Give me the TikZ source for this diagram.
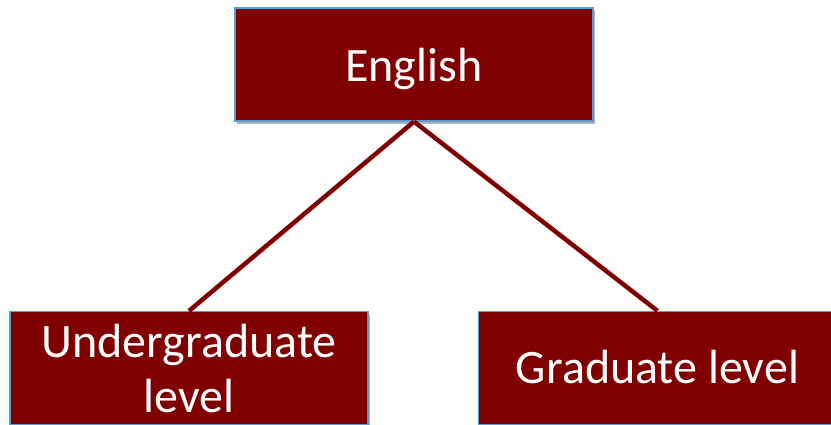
\documentclass[tikz,border=0pt]{standalone}
\usepackage{fontspec}
\setmainfont{Carlito}
\usetikzlibrary{shadows}
\definecolor{boxred}{HTML}{800000}
\definecolor{boxedge}{HTML}{5B9BD5}
\begin{document}
\begin{tikzpicture}[x=1pt,y=-1pt,
                    box/.style={draw=boxedge,line width=1.2pt,fill=boxred,text=white,minimum width=358pt,minimum height=113pt,inner sep=0pt,align=center,font=\fontsize{48}{55}\selectfont,drop shadow={shadow xshift=2pt,shadow yshift=-3pt,opacity=0.3,fill=black}},
                    one/.style={text height=#1,text depth=0pt}]
                    \useasboundingbox (0,0) rectangle (831,425);
                    \node[box,one=35pt] (E) at (414,64.5) {English};
                    \node[box] (U) at (189,368) {Undergraduate\\level};
                    \node[box,one=30pt] (G) at (657.5,368) {Graduate level};
                    \draw[boxred,line width=4.5pt] (E.south) -- (U.north) (E.south) -- (G.north);
                \end{tikzpicture}
\end{document}
